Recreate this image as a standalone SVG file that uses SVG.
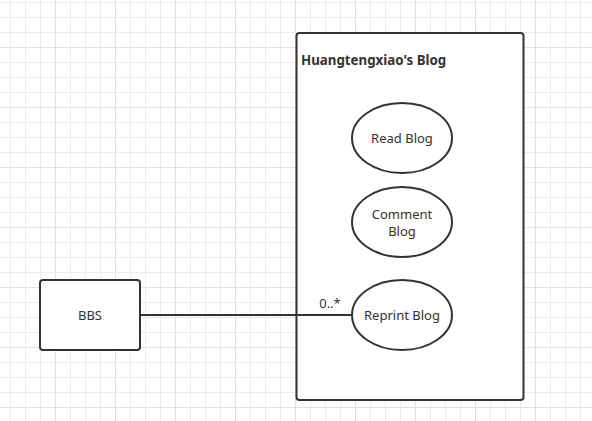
<svg xmlns="http://www.w3.org/2000/svg" width="592" height="421" viewBox="0 0 592 421">
<defs>
<pattern id="grid" x="10" y="2" width="15" height="15" patternUnits="userSpaceOnUse">
<path d="M0.5 0V15M0 0.5H15" fill="none" stroke="#ececec" stroke-width="1"/>
</pattern>
<pattern id="major" x="55" y="47" width="60" height="60" patternUnits="userSpaceOnUse">
<path d="M0.5 0V60M0 0.5H60" fill="none" stroke="#e2e2e2" stroke-width="1"/>
</pattern>
</defs>
<style>
.shape{fill:#fff;stroke:#333;stroke-width:2}
.lbl{font-family:"Noto Sans","Open Sans",sans-serif;font-size:13px;fill:#333;text-anchor:middle}
.title{font-family:"Noto Sans","Open Sans",sans-serif;font-size:13.3px;font-weight:bold;fill:#333}
.conn{stroke:#333;stroke-width:2;fill:none}
</style>
<rect width="592" height="421" fill="#fff"/>
<rect width="592" height="421" fill="url(#grid)"/>
<rect width="592" height="421" fill="url(#major)"/>
<g id="blog-boundary">
<rect class="shape" x="296.5" y="33" width="227" height="367" rx="3"/>
<text class="title" x="301" y="65">Huangtengxiao's Blog</text>
</g>
<g id="bbs">
<rect class="shape" x="40" y="280" width="100" height="70" rx="3"/>
<text class="lbl" x="90" y="319.5">BBS</text>
</g>
<g id="connectors">
<line class="conn" x1="140" y1="315" x2="352" y2="315"/>
<text class="lbl" x="330" y="307.5">0..*</text>
</g>
<g id="read-blog">
<ellipse class="shape" cx="402" cy="138" rx="50" ry="35"/>
<text class="lbl" x="402" y="142.5">Read Blog</text>
</g>
<g id="comment-blog">
<ellipse class="shape" cx="402" cy="222" rx="50" ry="35"/>
<text class="lbl" x="402" y="219"><tspan x="402">Comment</tspan><tspan x="402" dy="16.5">Blog</tspan></text>
</g>
<g id="reprint-blog">
<ellipse class="shape" cx="402" cy="315" rx="50" ry="35"/>
<text class="lbl" x="402" y="319.5">Reprint Blog</text>
</g>
</svg>
